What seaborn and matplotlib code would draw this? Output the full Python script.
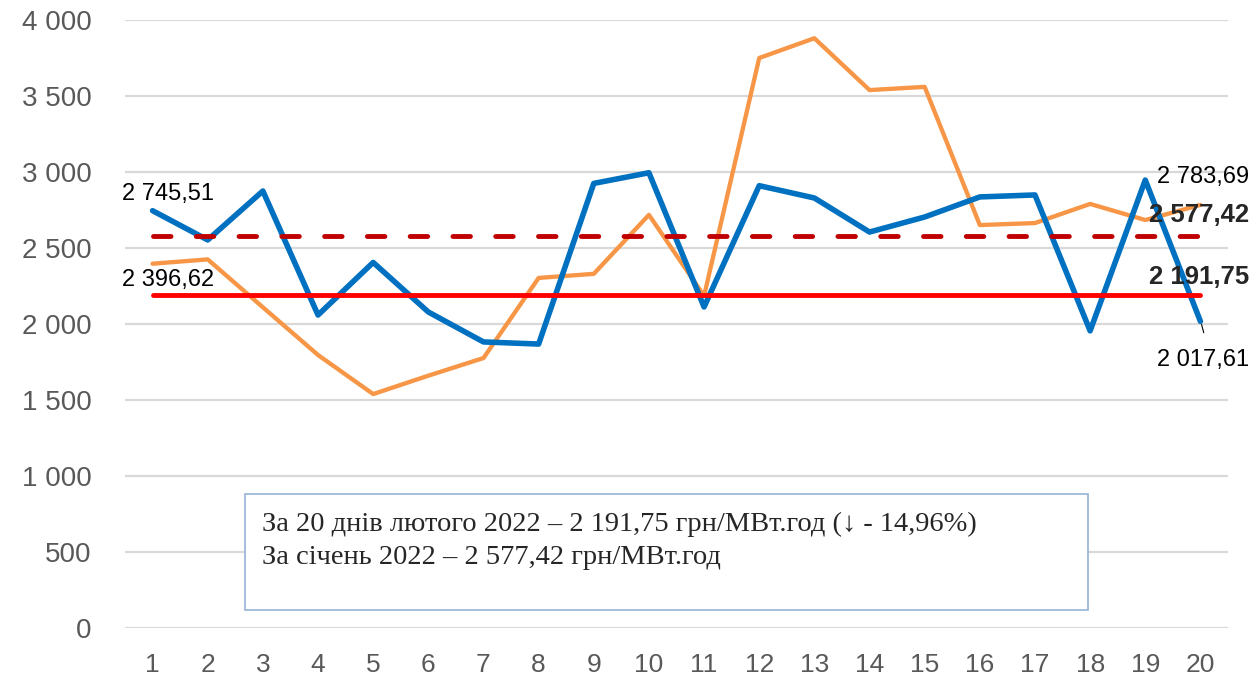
import matplotlib
matplotlib.use("Agg")
import matplotlib.pyplot as plt
import seaborn as sns
import pandas as pd

# daily prices, UAH/MWh
days = list(range(1, 21))
feb_2022 = [2745.51, 2553, 2875, 2059, 2405, 2079, 1882, 1868, 2925, 2995,
            2112, 2910, 2829, 2605, 2704, 2836, 2849, 1955, 2947, 2017.61]
jan_2022 = [2396.62, 2425, 2110, 1796, 1539, 1660, 1776, 2303, 2330, 2718,
            2185, 3750, 3880, 3539, 3560, 2651, 2664, 2790, 2684, 2783.69]
feb_avg = 2191.75
jan_avg = 2577.42
y_ticks = [0, 500, 1000, 1500, 2000, 2500, 3000, 3500, 4000]
box_lines = ["За 20 днів лютого 2022 – 2 191,75 грн/МВт.год (↓ - 14,96%)",
             "За січень 2022 – 2 577,42 грн/МВт.год"]


def fmt(v):
    s = f"{v:,.2f}"
    return s.replace(",", " ").replace(".", ",")


df = pd.DataFrame({"day": days, "feb": feb_2022, "jan": jan_2022,
                   "feb_avg": [feb_avg] * len(days), "jan_avg": [jan_avg] * len(days)})

sns.set_style("white")
plt.rcParams["font.family"] = ["Liberation Sans", "DejaVu Sans"]

fig = plt.figure(figsize=(12.54, 6.85), dpi=100)
ax = fig.add_axes([125 / 1254, 57 / 685, 1103 / 1254, 608 / 685])

sns.lineplot(data=df, x="day", y="feb", ax=ax, color="#0070C0", lw=4.0, zorder=3)
sns.lineplot(data=df, x="day", y="jan", ax=ax, color="#F79646", lw=3.1, zorder=2)
sns.lineplot(data=df, x="day", y="feb_avg", ax=ax, color="#FF0000", lw=3.5, zorder=4)
sns.lineplot(data=df, x="day", y="jan_avg", ax=ax, color="#C00000", lw=3.5, zorder=4,
             linestyle=(0, (3.6, 5.2)), dash_capstyle="round")

ax.set_xlim(0.5, 20.5)
ax.set_ylim(0, 4000)
ax.set_yticks(y_ticks)
ax.set_yticklabels([fmt(v).split(",")[0] for v in y_ticks])
ax.set_xticks(days)
ax.set_xlabel("")
ax.set_ylabel("")
ax.grid(axis="y", color="#D9D9D9", lw=1.6, zorder=0)
ax.grid(axis="x", visible=False)
for sp in ax.spines.values():
    sp.set_visible(False)
ax.tick_params(axis="both", length=0, colors="#595959")
ax.tick_params(axis="y", pad=24, labelsize=20)
ax.tick_params(axis="x", pad=18, labelsize=19)

# data labels
lab = dict(fontsize=17, color="black", va="center")
ax.annotate(fmt(feb_2022[0]), (days[0], feb_2022[0]), xytext=(-22, 12),
            textcoords="offset points", **lab)
ax.annotate(fmt(jan_2022[0]), (days[0], jan_2022[0]), xytext=(-22, -12),
            textcoords="offset points", **lab)
ax.annotate(fmt(jan_2022[-1]), (days[-1], jan_2022[-1]), xytext=(35, 20),
            textcoords="offset points", ha="right", **lab)
ax.annotate(fmt(feb_2022[-1]), (days[-1], feb_2022[-1]), xytext=(35, -28),
            textcoords="offset points", ha="right", **lab)
ax.plot([days[-1] + 0.02, days[-1] + 0.06], [feb_2022[-1] - 20, feb_2022[-1] - 75],
        color="black", lw=0.8)
ax.annotate(fmt(jan_avg), (days[-1], jan_avg), xytext=(35, 15),
            textcoords="offset points", ha="right", va="center",
            fontsize=18.5, fontweight="bold")
ax.annotate(fmt(feb_avg), (days[-1], feb_avg), xytext=(35, 13),
            textcoords="offset points", ha="right", va="center",
            fontsize=18.5, fontweight="bold")

# text box
box = plt.Rectangle((245 / 1254, 1 - 610 / 685), 843 / 1254, 116 / 685,
                    transform=fig.transFigure, fill=True, facecolor="white",
                    edgecolor="#95B3D7", lw=1.2, zorder=5)
fig.patches.append(box)
for i, line in enumerate(box_lines):
    fig.text(262 / 1254, 1 - (524 + 33 * i) / 685, line, fontsize=20.5,
             family=["Liberation Serif", "DejaVu Serif"], va="center", zorder=6)

plt.savefig("out.png", dpi=100)
plt.close()
